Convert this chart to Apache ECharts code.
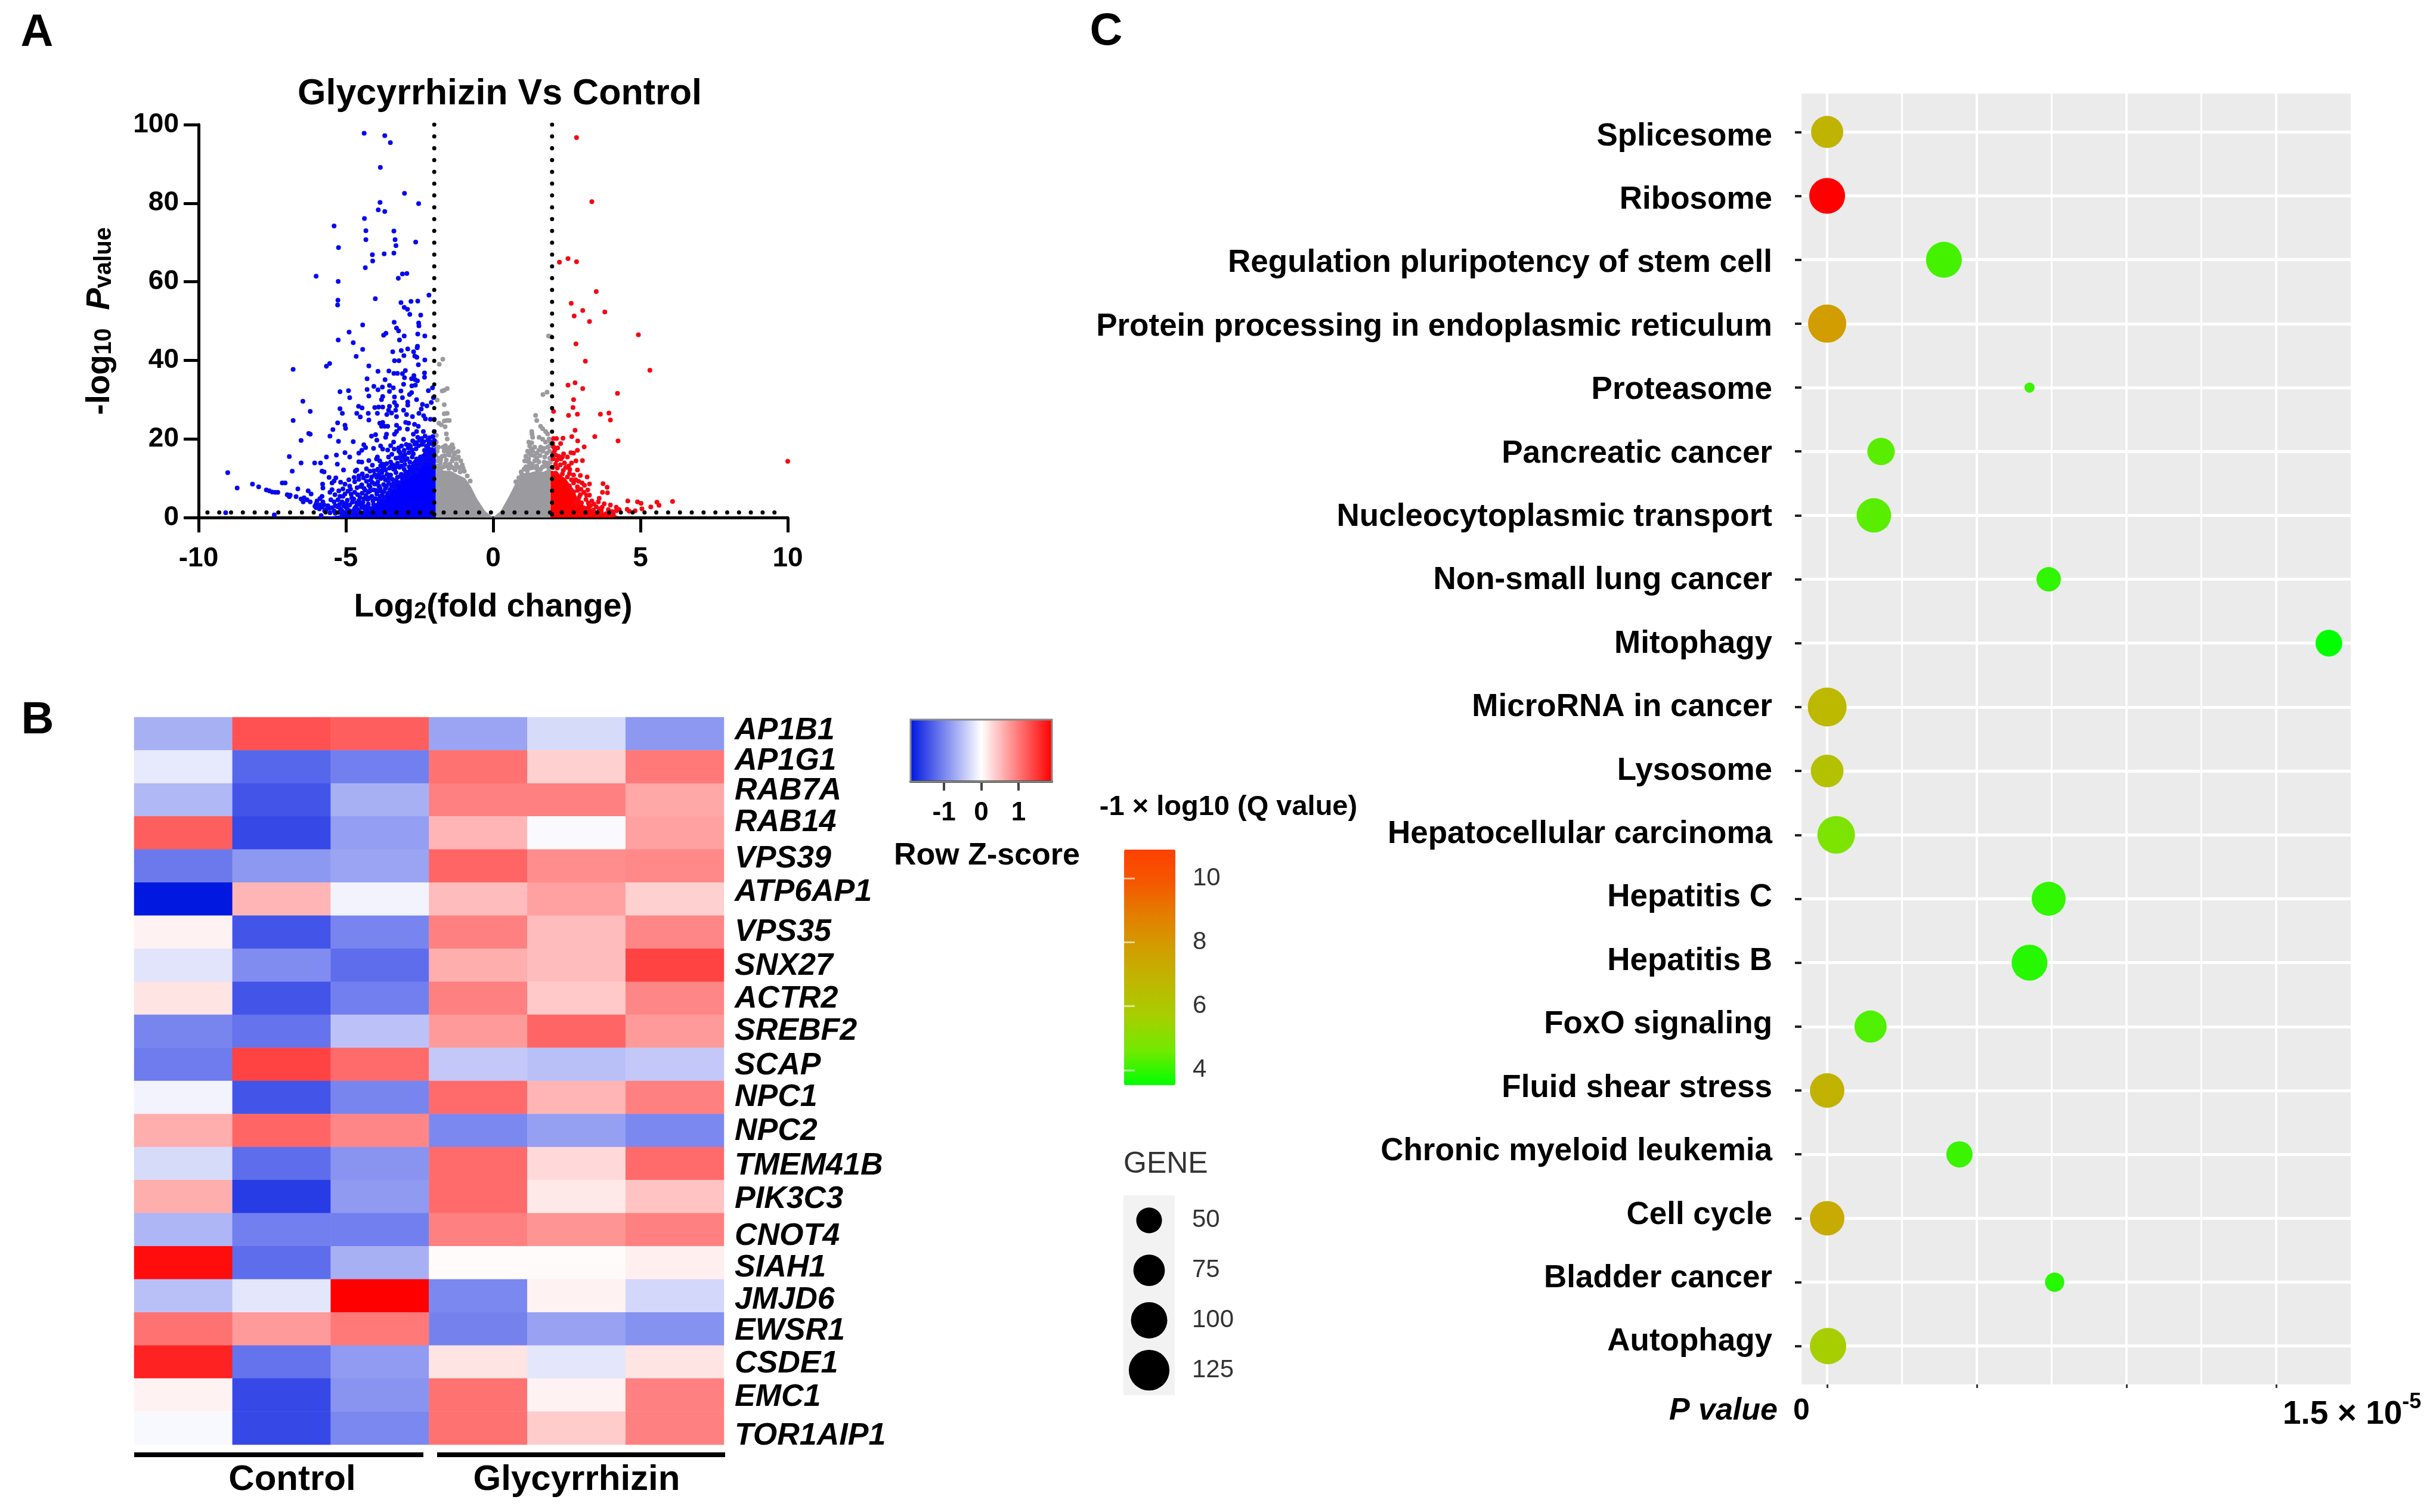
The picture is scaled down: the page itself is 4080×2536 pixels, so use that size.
<!DOCTYPE html>
<html><head><meta charset="utf-8">
<style>html,body{margin:0;padding:0;background:#fff}#c{width:4080px;height:2536px}</style>
<script src="https://cdn.jsdelivr.net/npm/echarts@6/dist/echarts.min.js"></script>
</head><body><div id="c"></div>
<script>
// ---------- Panel A: volcano ----------
const blueSolidEnvelope = [[-1.95,18],[-2.1,16.8],[-2.25,17.6],[-2.4,16.2],[-2.55,15.4],[-2.7,14.6],[-2.85,12.6],[-3.0,11.4],[-3.12,9.6],[-3.28,9],[-3.42,7.2],[-3.58,6.8],[-3.72,5.2],[-3.88,4.6],[-4.02,3.2],[-4.2,2.6],[-4.46,1.6],[-4.8,1.1],[-5.13,0.6],[-5.8,0]];
const graySolidEnvelope = [[-1.95,12.8],[-1.7,12],[-1.42,11.8],[-1.2,10.9],[-0.95,10],[-0.75,7.8],[-0.55,4.8],[-0.28,1.7],[0,0],[0.26,1.7],[0.53,5.3],[0.8,9.3],[1.0,11.3],[1.25,11.4],[1.48,11.9],[1.7,11.6],[1.95,12.6]];
const redSolidEnvelope = [[1.95,12],[2.2,11.5],[2.32,10.6],[2.45,10],[2.6,8.5],[2.75,7],[2.85,5],[3.05,3.2],[3.3,2.4],[3.6,1.5],[4,1],[4.25,0.3]];
const volcanoBlue = [[-4.38,97.8],[-3.68,97.2],[-3.49,95.4],[-3.83,89.1],[-3.01,82.5],[-2.53,79.9],[-3.84,80.2],[-3.9,78.3],[-3.68,77.9],[-4.37,76.1],[-5.4,74.2],[-4.32,73],[-3.37,72.9],[-4.32,70.7],[-3.33,70.7],[-2.63,70.1],[-3.3,69.2],[-5.25,68.7],[-4.1,66.9],[-3.7,67.1],[-3.37,67.3],[-4.09,65.3],[-4.34,63.6],[-3.08,62],[-2.93,62.1],[-6.01,61.4],[-3.22,60.9],
[-5.26,60.1],[-2.18,56.6],[-4,55.7],[-5.27,55.3],[-5.28,54.1],[-3.13,54.7],[-2.79,55],[-2.56,55.1],[-3.02,53.5],[-2.91,53],[-2.83,51.7],[-2.46,51.5],[-3.36,49.7],[-2.53,49.5],[-2.52,48.8],[-4.43,49],[-3.28,48.2],[-3.21,47.5],[-4.89,47.2],[-3.64,46.9],[-3.72,46.4],[-2.56,46.7],[-2.32,46.2],[-3.02,46.2],[-3.18,45.2],[-5.26,45.2],[-4.75,44.5],[-2.57,43.6],[-2.58,43.2],[-2.9,42.9],[-4.43,42.8],[-3.12,42.5],[-3.41,42.2],[-2.7,42.2],[-3.03,41.2],[-2.66,41.1],[-2.59,40.8],[-4.65,41],[-2.32,40.1],[-3.35,39.9],[-3.2,39.9],[-2.54,38.9],[-5.55,39.2],[-5.66,38.5],[-4.22,38.6],[-6.79,37.7],[-3.91,37.2],[-3.54,37.3],[-2.98,37.4],[-3.37,36.7],[-3.25,36.7],[-3.08,36.6],[-2.33,36.8],[-2.33,35.7],[-3.01,35.6],[-4.28,35.3],[-3.67,35.1],[-2.77,35.3],[-2.69,36.1],[-2.65,35.1],[-2.57,34.8],[-3.04,33.9],[-2.76,33.5],[-2.64,33.7],[-2.06,33],[-2.2,32.3],[-4.05,33.4],[-3.76,33.2],[-3.52,33.6],[-3.39,33],[-4.28,32.6],[-3.91,32.5],[-4.91,32.3],[-5.2,32],[-3.52,32.1],[-3.13,32.2],[-2.77,31.8],
[-6.46,29.6],[-4.87,30.5],[-4.22,30.9],[-3.75,30.8],[-3.79,30],[-3.35,30.7],[-3.08,30.5],[-2.84,31.3],[-2.6,30],[-2.03,30.5],[-2.1,29.3],[-3.35,29.3],[-2.9,29.4],[-2.9,28.6],[-6.21,27],[-5.2,27.7],[-5.12,26.5],[-4.57,28.3],[-4.45,27.9],[-4.02,28],[-3.89,28.1],[-3.75,28.1],[-3.52,28.3],[-3.55,27.3],[-3.28,28.5],[-3.31,27.3],[-2.4,28.8],[-2.25,28.4],[-2.44,27.6],[-4.63,26.5],[-4.51,25.6],[-4.24,26.5],[-3.93,26.5],[-3.61,26.2],[-3.45,26.6],[-3.04,27.3],[-2.94,26.2],[-2.52,26.5],[-3.28,25.7],[-2.74,25.7],[-2.36,25.9],[-6.79,24.7],[-4.22,24.8],[-2.3,25.1],[-2.13,25],[-2,25],[-5.28,24.1],[-5.03,23.5],[-5.01,22.7],[-5.44,22.4],[-5.54,20.7],[-6.26,21.4],[-6.21,21.2],[-6.52,19.6],[-5.25,19.4],[-4.75,19.3],[-4.13,20.7],[-3.99,21.1],[-3.95,19.7],[-3.85,24],[-3.75,24.2],[-3.68,23.2],[-3.79,23.2],[-3.58,23.2],[-3.28,23.5],[-3.18,22.7],[-3.35,21.2],[-3.28,21.9],[-2.97,24.2],[-2.87,24],[-2.67,23.7],[-2.54,23.2],[-2.91,22.5],[-2.6,21.9],[-2.71,21.2],[-2.37,21.9],[-2,21.9],[-3.62,21.2],[-3.65,20.4],[-3.04,19.9],[-3.38,19.2],[-4.39,18.5],[-4.33,17.8],[-4.06,17.6],[-3.82,18.2],[-3.48,18.3],[-3.11,18.2],[-3.75,17.4],[-3.58,17.2],[-3.21,17.7],[-2.84,18.4],[-4.46,17.1],[-4.56,16.4],[-6.92,15.5],[-5.66,15.4],[-5.32,15.9],[-5.03,16.5],[-4.87,15.4],[-3.93,15.4],[-6.52,13.9],[-6.06,13.9],[-5.86,13.9],[-5.29,13.6],[-4.56,14.2],[-4.46,14.1],[-4.22,14.5],[-3.85,14.4],[-3.75,13.6],[-3.48,14.1],[-3.11,14.4],[-9.01,11.4],[-6.82,11.8],[-5.81,11.8],[-5.74,11.6],[-5.08,12.1],[-4.63,12.1],[-4.68,11.8],[-3.92,12.3],[-3.65,12.1],[-3.38,12.3],[-3.89,10.8],[-3.85,10.3],[-3.48,10.8],[-5.57,10.2],[-5.34,10.1],[-5.4,9.3],[-5.47,8.8],[-4.56,9.7],[-4.16,9.5],[-4.7,9.1],[-4.46,8.3],[-3.92,9],[-7.16,8.8],[-7.06,8.8],[-8.17,8.5],[-8.69,7.5],[-7.96,7.8],[-7.7,7],[-7.6,6.8],[-7.5,6.5],[-7.4,6.4],[-7.31,6.4],[-6.63,7.3],[-5.79,8.5],[-5.78,7.5],[-5.03,8.5],[-4.87,8],[-5.1,7.3],[-4.93,6.7],[-5.47,7.1],[-5.54,6.4],[-6.28,6.8],[-6.18,6],[-6.99,5.8],[-6.89,5.7],[-6.92,5.3],[-6.69,5.3],[-6.52,4.7],[-6.42,5],[-6.32,4.5],[-6.45,4],[-6.21,4],[-5.81,5.4],[-5.98,4.2],[-5.88,4.8],[-5.78,4],[-6.01,3.5],[-5.88,3.2],[-5.74,3.2],[-5.37,5.8],[-5.2,5.4],[-5.1,5.4],[-4.8,5],[-4.73,4.7],[-5.51,4.5],[-5.4,4],[-5.27,4.5],[-5.13,4],[-4.63,3.7],[-6.01,2.5],[-5.81,2.7],[-5.61,3],[-5.47,2.5],[-5.27,2.7],[-5.07,3],[-4.87,3.2],[-4.66,2.7],[-4.46,2.5],[-5.67,2],[-5.4,1.7],[-5.13,1.7],[-4.87,1.7],[-4.6,1.5],[-5.54,1.2],[-5.13,0.9],[-4.8,0.7],[-4.53,0.7],[-9.08,1.2],[-7.43,0.7],[-5.84,0.5],
[-2.05,20.6],[-2.16,20.3],[-2.31,20.7],[-2.43,20.1],[-2.56,20.4],[-2,19.6],[-2.12,19.2],[-2.22,19.7],[-2.36,19.3],[-2.49,19.6],[-2.61,19.1],[-2.73,19.5],[-2.03,18.5],[-2.18,18.7],[-2.27,18.2],[-2.41,18.6],[-2.53,18.3],[-2.66,18.7],[-2.81,18.1],[-2.95,18.6],[-2.08,17.3],[-2.2,17.6],[-2.33,17.1],[-2.62,17.5],[-2.75,17.2],[-2.88,17.7],[-3.02,17.1],[-3.2,16.9],[-3.36,17.4],[-2.02,16.4],[-2.14,16.1],[-2.28,16.5],[-2.71,16.2],[-2.86,16.5],[-3,16],[-3.15,16.4],[-3.44,16.1],[-2.05,15.2],[-2.2,15.5],[-2.34,15],[-2.47,15.4],[-2.6,14.9],[-2.75,15.4],[-2.92,15],[-3.07,15.5],[-3.3,15.1],[-3.55,15.4],[-3.96,14.9],[-2.1,14],[-2.25,14.4],[-2.4,13.8],[-2.55,14.2],[-2.7,13.7],[-2.83,14.1],[-3,13.5],[-3.25,13.8],[-3.4,13.4],[-3.62,13.7],[-3.82,13.2],[-4.1,13.3],[-2.5,12.9],[-2.68,12.6],[-2.85,12.9],[-3.02,12.3],[-3.18,12.8],[-3.52,12.6],[-3.75,12.2],[-4.05,11.9],[-4.3,12.4],[-2.6,11.6],[-2.8,11.2],[-2.97,11.6],[-3.12,11],[-3.3,11.4],[-3.6,11],[-3.78,11.4],[-4.02,10.9],[-4.28,10.6],[-4.44,11.1],[-2.9,10.3],[-3.08,9.8],[-3.25,10.2],[-3.42,9.7],[-3.66,9.6],[-3.82,9.9],[-4.1,8.9],[-4.3,9.2],[-3.2,8.9],[-3.38,8.6],[-3.55,8.9],[-3.72,8.4],[-3.88,8],[-4.02,8.5],[-4.18,7.8],[-4.38,7.4],[-4.62,7.6],[-3.32,7.5],[-3.5,7.1],[-3.66,7.4],[-3.84,6.8],[-4.05,7],[-4.24,6.5],[-4.45,6.2],[-4.7,6.4],[-3.58,6.2],[-3.76,5.8],[-3.95,6],[-4.12,5.4],[-4.32,5.6],[-4.52,5.1],[-3.7,4.9],[-3.9,4.6],[-4.08,4.2],[-4.26,4.6],[-4.42,3.9],[-4.06,3.3],[-4.24,3.4],[-4.42,2.9],[-4.2,2.4],[-4.34,1.9],[-4.72,1.9],[-4.95,2.2],[-5.25,1.3],[-4.92,1],
[-2.98,14.7],[-3.12,13.1],[-3.34,12.4],[-3.2,15.2],[-3.46,13],[-3.7,12.8],[-3.9,12],[-4.18,11.8],[-4.4,10.1],[-4.56,10.6],[-4.72,10.2],[-4.9,9.6],[-5.18,9],[-4.22,8.2],[-4.5,7.9],[-4.84,7.2],[-5.24,6.8],[-5.03,6],[-4.6,5.8],[-4.82,5.9],[-4.95,4.4],[-4.38,4.8],[-4.56,4.3],[-4.78,3.9],[-5,3.6],[-5.22,3.3],[-5.36,3],[-4.54,3.3],[-4.32,2.8],[-4.7,2.3],[-5,2.6],[-5.18,2.2],[-5.56,2.4],[-4.58,2],[-5.36,1.1],[-5.02,1.3],[-4.72,1.2],[-5.72,1.7],[-5.9,2.2],[-6.05,2.9],[-3.3,13],[-2.6,13.2],[-3.95,10.2],[-3.72,10.3],[-3.55,10],[-4.12,10.3],[-3.15,10.5],[-3.02,10.6],[-3.3,9.4],[-3.46,8.3],[-3.62,8],[-3.84,7.4],[-3.98,6.9],[-4.18,6.8],[-4.34,6.9],[-4.2,5],[-4,4.8],[-3.84,5.4],[-3.72,6.6],[-3.44,7.9]];
const volcanoGray = [[-1.71,40.3],[-1.83,39],[-1.56,32.8],[-1.66,32.4],[-1.73,32.2],[-1.9,29.9],[-1.66,28.7],[-1.66,26.4],[-1.56,26.5],[-1.66,24.6],[-1.57,24.7],[-1.49,24.7],[-1.84,24],[-1.76,23.6],[-1.63,23.1],[-1.59,21.3],[-1.56,20],[-1.93,20.9],[-1.93,19.2],[-1.39,18.5],[-1.46,17.9],[-1.36,17.7],[-1.56,17.4],[-1.42,16.9],[-1.19,16.8],[-1.29,16.5],[-1.86,17.9],[-1.9,16.9],[-1.66,16.9],[-1.73,15.6],[-1.49,15.9],[-1.32,16.1],[-1.59,14.6],[-1.25,14.9],[-1.9,14.4],[-1.39,14.4],[-1.79,13.8],[-1.05,13.4],[-1.25,13.6],[-1.56,13.1],[-1.9,13.1],[-1.42,12.9],[-1.76,12.6],[-1.15,12.7],[-0.98,11.8],[-1.12,11.6],[-0.88,10.6],[-0.78,9.3],[-1.29,12.1],
[-1.83,15.1],[-1.64,15.7],[-1.52,16.5],[-1.62,13.7],[-1.47,13.6],[-1.36,15.2],[-1.18,15.4],[-1.1,14.4],[-1.02,12.6],[-1.22,12.9],[-1.35,12.6],[-1.68,12.9],[-1.5,12.5],[-1.86,12.9],[-1.95,15.8],[-1.95,18.1],[-1.78,14.7],[-1.7,17.9],[-1.62,18.3],
[1.69,31.3],[1.83,31.9],[1.88,46.2],[1.95,46.1],[1.44,26],[1.48,24.7],[1.61,23.2],[1.68,22.6],[1.78,21.9],[1.85,21.3],[1.31,21.9],[1.32,21.2],[1.34,20.4],[1.56,20.4],[1.68,19.9],[1.78,19.2],[1.21,19.2],[1.31,19],[1.24,18.2],[1.41,17.9],[1.61,17.9],[1.85,17.9],[1.17,16.9],[1.34,16.9],[1.48,16.4],[1.68,16.9],[1.82,16.4],[1.92,16.9],[1.11,15.6],[1.28,15.9],[1.48,15.1],[1.75,15.4],[1.92,15.1],[1.07,14.4],[1.24,13.9],[1.41,14.4],[1.82,13.9],[1.48,13.1],[1.11,12.9],[1.28,12.6],[1.61,12.3],[1.75,13.1],[0.97,10.8],[0.87,10.1],[0.77,9.1],
[1.94,19.3],[1.9,20],[1.55,17.1],[1.72,17.6],[1.4,15.7],[1.2,14.9],[1.16,14.3],[1.33,13.5],[1.38,12.7],[1.5,12.3],[1.68,12.9],[1.88,12.7],[1.94,14],[1.16,11.9],[1.05,12.3],[0.95,11.6],[1.2,13],[1.55,14.2],[1.86,13.4],[1.73,14.1],[1.3,17.4],[1.22,16.3],[1.59,15.8],[1.92,18.2]];
const volcanoRed = [[2.83,96.7],[3.35,80.4],[2.25,65],[2.54,65.9],[2.83,65.1],[3.5,57.5],[2.65,54.5],[3.04,52.7],[3.79,52.3],[2.75,51.3],[3.27,49.9],[4.93,46.5],[2.81,44.2],[3.13,39.8],[5.32,37.5],[2.54,33.7],[2.78,34.3],[3.04,32.8],[4.22,31.6],[2.73,30],[2.71,28],[2.05,27],[2.56,26],[2.86,26.3],[3.64,26.3],[3.93,26.6],[3.98,24.8],[2.78,22.2],[3.45,20.6],[4.24,19.5],[2.05,20.1],[2.15,20.1],[2.37,20.2],[2.67,20.6],[2.87,19.5],[2.29,18.8],[2.02,18.9],[3.09,18],[2.86,17.1],[2.19,17.7],[2.09,17.1],[2.39,16.2],[2.64,16.5],[2.73,16.4],[2.12,15.9],[2.22,15.6],[2.52,15.4],[2.81,14.4],[3.03,14.5],[2.66,13.9],[2.56,13.1],[2.46,12.7],[2.12,13.6],[2.86,12.1],[2.02,12.7],[2.96,10.7],[3.19,10.3],[2.35,11.1],[2.59,11.2],[2.73,10.8],[2.12,11.3],[2.52,10.3],[3.73,8.6],[3.27,8.55],[3.1,8.2],[3.87,7.7],[3.21,7],[2.86,7.8],[2.73,8.8],[3.71,6.4],[3.88,6.3],[2.86,6.9],[2.96,5.8],[3.17,5.7],[3.27,5.7],[3.6,4.9],[3.57,4],[3.77,3.5],[3.98,3.2],[4.57,4.2],[4.9,4],[5.02,3.6],[5.56,3.9],[5.63,3.1],[6.09,4.1],[5.35,2.7],[5.05,2.2],[4.82,1.7],[4.55,2.1],[4.62,1.6],[4.18,2.6],[4.28,2],[3.23,3.7],[2.9,4.2],[2.79,4],[3,3.7],[3.5,2.7],[3.3,3],[3.67,1.7],[3.91,2],[4.04,1.5],[4.18,1.7],[3.13,2.2],[3.57,1.2],[3.84,1],[4.08,0.8],[2.63,7],[2.73,6.5],[2.59,8],[10,14.3],
[2.03,14.9],[2.16,14.6],[2.3,14.9],[2.05,16.4],[2.28,13.4],[2.42,13.9],[2.35,15.4],[2.05,18],[2.18,12.6],[2.6,12.2],[2.38,12],[2.8,9.6],[2.66,9.6],[2.9,9.2],[3.02,8.8],[2.98,7.2],[3.08,6.4],[3.15,4.6],[3.35,4.2],[3.42,3.4],[3.7,2.6],[3.98,1.4],[3.4,1.9],[3.6,2.2],[3.25,2.8],[2.92,5.2]];
const foldCutoffs = [-2, 2];
const pCutoff = 1.3;

// ---------- Panel B: heatmap ----------
const sampleColumns = ['C1','C2','C3','G1','G2','G3'];
const genes = ['AP1B1','AP1G1','RAB7A','RAB14','VPS39','ATP6AP1','VPS35','SNX27','ACTR2','SREBF2','SCAP','NPC1','NPC2','TMEM41B','PIK3C3','CNOT4','SIAH1','JMJD6','EWSR1','CSDE1','EMC1','TOR1AIP1'];
const zScores = [
[-.65,1.3,1.2,-.75,-.3,-.85],[-.18,-1.25,-1.05,1.05,.35,1],[-.58,-1.4,-.65,.95,.95,.65],[1.2,-1.5,-.8,.55,-.04,.7],[-1.1,-.85,-.75,1.15,.85,.88],[-1.9,.55,-.1,.5,.7,.35],[.1,-1.4,-1,.95,.5,.9],[-.22,-.95,-1.2,.6,.5,1.4],[.2,-1.4,-1.05,.95,.4,.9],[-1,-1.15,-.5,.75,1.15,.75],[-1.08,1.4,1.1,-.45,-.52,-.45],[-.1,-1.4,-1,1.1,.55,.95],[.6,1.15,.9,-.98,-.78,-.98],[-.3,-1.2,-.88,1.1,.28,1.1],[.6,-1.6,-.83,1.1,.17,.45],[-.6,-1.05,-1.05,.95,.8,.95],[1.8,-1.2,-.65,.03,.03,.12],[-.52,-.2,1.9,-.98,.1,-.33],[1.05,.75,1,-1.03,-.77,-.9],[1.65,-1.15,-.82,.2,-.2,.2],[.1,-1.5,-.88,1.05,.1,.95],[-.05,-1.5,-.98,1.05,.38,.95]];
const geneLabelNudge = [-5,-10,-15,-17,-12,-11,0,2,1,0,2,0,1,4,5,11,9,7,4,3,4,13];
const zTicks = [-1,0,1];

// ---------- Panel C: bubbles ----------
const pathways = ['Splicesome','Ribosome','Regulation pluripotency of stem cell','Protein processing in endoplasmic reticulum','Proteasome','Pancreatic cancer','Nucleocytoplasmic transport','Non-small lung cancer','Mitophagy','MicroRNA in cancer','Lysosome','Hepatocellular carcinoma','Hepatitis C','Hepatitis B','FoxO signaling','Fluid shear stress','Chronic myeloid leukemia','Cell cycle','Bladder cancer','Autophagy'];
const pValuesE5 = [0,0,.39,0,.676,.18,.156,.74,1.676,0,0,.03,.74,.676,.145,0,.442,0,.76,.003];
const geneCounts = [78,97,97,110,8,57,90,45,54,114,81,107,87,97,78,90,52,90,28,100];
const qScores = [7,11.2,4.2,8,4.1,4.4,4.4,4,3.53,6.8,6.4,4.9,4,3.9,4.3,7.1,4.1,7.4,3.9,5.8];
const geneLegendCounts = ['50','75','100','125'];
const qTicks = [4,6,8,10];
const pMajor = [0,.5,1,1.5];
const pMinor = [.25,.75,1.25];

const FONT = '"Liberation Sans"';
const bubbleSize = d => 6.1*Math.sqrt(d);
const rowIdx = pathways.map((_,i)=>i);
const heatData = [];
zScores.forEach((row,r)=>row.forEach((z,c)=>heatData.push([c,r,z])));
const geneRich = {};
genes.forEach((g,i)=>{const n=geneLabelNudge[i];geneRich['g'+i]={fontFamily:FONT,fontSize:52,fontWeight:'bold',fontStyle:'italic',color:'#000',padding:n>=0?[2*n,0,0,0]:[0,0,-2*n,0]};});
const off = {show:false};
const noLine = {show:false,onZero:false};
const txt = (t,x,y,size,o={})=>({type:'text',x,y,z:50,style:Object.assign({text:t,fontFamily:FONT,fontSize:size,fontWeight:'bold',fill:'#000',align:'center',verticalAlign:'middle'},o)});
const bar = (x1,x2,y)=>({type:'line',z:50,shape:{x1,y1:y,x2,y2:y},style:{stroke:'#000',lineWidth:8}});
const DOT = 8;

const option = {
 animation:false, backgroundColor:'#fff',
 grid:[
  {left:333,top:209,width:988,height:659,outerBoundsMode:'none'},
  {left:225,top:1203,width:989,height:1220,outerBoundsMode:'none'},
  {left:1527,top:1207,width:237,height:104,outerBoundsMode:'none'},
  {left:3021,top:157,width:921,height:2165,show:true,backgroundColor:'#ebebeb',borderWidth:0,outerBoundsMode:'none'},
  {left:1885,top:1425,width:86,height:395,outerBoundsMode:'none'},
  {left:1884,top:2005,width:86,height:335,show:true,backgroundColor:'#f2f2f2',borderWidth:0,outerBoundsMode:'none'}
 ],
 xAxis:[
  {gridIndex:0,type:'value',min:-10,max:10,interval:5,splitLine:off,
   axisLine:{lineStyle:{color:'#000',width:5}},axisTick:{length:25,lineStyle:{color:'#000',width:5}},
   axisLabel:{fontFamily:FONT,fontWeight:'bold',fontSize:46,color:'#000',margin:46},
   name:'{a|Log}{s|2}{a|(fold change)}',nameLocation:'middle',nameGap:114,
   nameTextStyle:{rich:{a:{fontFamily:FONT,fontWeight:'bold',fontSize:55,color:'#000',verticalAlign:'bottom',lineHeight:64},s:{fontFamily:FONT,fontWeight:'bold',fontSize:38,color:'#000',verticalAlign:'bottom',lineHeight:38}}}},
  {gridIndex:1,type:'category',data:sampleColumns,show:false},
  {gridIndex:2,type:'value',min:-1.9,max:1.9,splitLine:off,z:10,
   axisLine:{lineStyle:{color:'#111',width:4}},
   axisTick:{customValues:zTicks,length:15,lineStyle:{color:'#444',width:4}},
   axisLabel:{customValues:zTicks,fontFamily:FONT,fontWeight:'bold',fontSize:44,color:'#000',margin:31}},
  {gridIndex:3,type:'value',position:'bottom',min:-0.0857,max:1.749,
   axisLine:noLine,axisLabel:off,axisTick:{customValues:pMajor,length:6,lineStyle:{color:'#333',width:3}},
   splitLine:{show:true,lineStyle:{color:'#fff',width:4}}},
  {gridIndex:3,type:'value',position:'bottom',min:-0.0857,max:1.749,
   axisLine:noLine,axisLabel:off,axisTick:{show:false,customValues:pMinor},
   splitLine:{show:true,lineStyle:{color:'#fff',width:3}}},
  {gridIndex:4,type:'value',min:0,max:1,show:false},
  {gridIndex:5,type:'value',min:0,max:1,show:false}
 ],
 yAxis:[
  {gridIndex:0,type:'value',min:0,max:100,interval:20,splitLine:off,
   axisLine:{onZero:false,lineStyle:{color:'#000',width:5}},axisTick:{length:25,lineStyle:{color:'#000',width:5}},
   axisLabel:{fontFamily:FONT,fontWeight:'bold',fontSize:46,color:'#000',margin:33},
   name:'{a|-log}{s|10}{a|  }{i|P}{s|value}',nameLocation:'middle',nameGap:138,nameRotate:90,
   nameTextStyle:{rich:{a:{fontFamily:FONT,fontWeight:'bold',fontSize:55,color:'#000',verticalAlign:'bottom',lineHeight:64},i:{fontFamily:FONT,fontWeight:'bold',fontStyle:'italic',fontSize:55,color:'#000',verticalAlign:'bottom',lineHeight:64},s:{fontFamily:FONT,fontWeight:'bold',fontSize:40,color:'#000',verticalAlign:'bottom',lineHeight:40}}}},
  {gridIndex:1,type:'category',data:genes,inverse:true,position:'right',
   axisLine:off,axisTick:off,splitLine:off,
   axisLabel:{margin:18,align:'left',formatter:(v)=>`{g${genes.indexOf(v)}|${v}}`,rich:geneRich,interval:0}},
  {gridIndex:2,type:'value',min:0,max:1,show:false},
  {gridIndex:3,type:'value',position:'left',min:-0.6,max:19.6,inverse:true,
   axisLine:noLine,axisLabel:off,axisTick:{customValues:rowIdx,length:11,lineStyle:{color:'#222',width:4}},
   splitLine:{show:true,lineStyle:{color:'#fff',width:5}}},
  {gridIndex:3,type:'value',position:'left',min:-0.677,max:19.67,inverse:true,axisLine:noLine,axisTick:{show:false,customValues:rowIdx},splitLine:off,
   axisLabel:{customValues:rowIdx,margin:49,fontFamily:FONT,fontWeight:'bold',fontSize:53,color:'#000',formatter:v=>pathways[v]}},
  {gridIndex:4,type:'value',min:3.53,max:10.9,position:'right',z:10,splitLine:off,axisLine:off,
   axisTick:{customValues:qTicks,inside:true,length:18,lineStyle:{color:'rgba(255,255,255,.6)',width:3}},
   axisLabel:{customValues:qTicks,fontFamily:FONT,fontSize:42,color:'#333',margin:29,padding:[6,0,0,0]}},
  {gridIndex:4,type:'value',min:3.53,max:10.9,position:'left',z:10,splitLine:off,axisLine:off,axisLabel:off,
   axisTick:{customValues:qTicks,inside:true,length:18,lineStyle:{color:'rgba(255,255,255,.6)',width:3}}},
  {gridIndex:5,type:'category',data:geneLegendCounts,inverse:true,position:'right',axisLine:off,axisTick:off,splitLine:off,
   axisLabel:{fontFamily:FONT,fontSize:42,color:'#333',margin:29}}
 ],
 visualMap:[
  {type:'continuous',seriesIndex:8,dimension:2,min:-1.9,max:1.9,orient:'horizontal',left:1527,top:1207,itemWidth:104,itemHeight:237,padding:0,text:null,showLabel:false,calculable:false,hoverLink:false,
   inRange:{color:['#0018e0','#ffffff','#ff0000']}},
  {type:'continuous',seriesIndex:9,dimension:3,min:3.53,max:11.2,show:false,
   inRange:{color:['#00ff00','#70ea00','#a5d000','#bdb800','#d0a000','#e38000','#f45800','#ff0000']}},
  {type:'continuous',seriesIndex:11,dimension:0,min:3.53,max:10.9,left:1885,top:1425,itemWidth:86,itemHeight:395,padding:0,text:null,showLabel:false,calculable:false,hoverLink:false,
   inRange:{color:['#00ff00','#70ea00','#a5d000','#bdb800','#d0a000','#e38000','#f45800','#ff4000']}}
 ],
 series:[
  {type:'line',xAxisIndex:0,yAxisIndex:0,data:graySolidEnvelope,symbol:'none',lineStyle:{width:0},areaStyle:{color:'#9b9b9f',opacity:1},z:2},
  {type:'scatter',xAxisIndex:0,yAxisIndex:0,data:volcanoGray,symbolSize:DOT,itemStyle:{color:'#9b9b9f',opacity:1},z:2},
  {type:'line',xAxisIndex:0,yAxisIndex:0,data:blueSolidEnvelope,symbol:'none',lineStyle:{width:0},areaStyle:{color:'#0000ff',opacity:1},z:3},
  {type:'scatter',xAxisIndex:0,yAxisIndex:0,data:volcanoBlue,symbolSize:DOT,itemStyle:{color:'#0808f0',opacity:1},z:3},
  {type:'line',xAxisIndex:0,yAxisIndex:0,data:redSolidEnvelope,symbol:'none',lineStyle:{width:0},areaStyle:{color:'#ff0000',opacity:1},z:3},
  {type:'scatter',xAxisIndex:0,yAxisIndex:0,data:volcanoRed,symbolSize:DOT,itemStyle:{color:'#f50814',opacity:1},z:3},
  {type:'line',xAxisIndex:0,yAxisIndex:0,symbol:'none',z:4,lineStyle:{color:'#000',width:7,type:[0.01,19.8],cap:'round'},
   data:[[foldCutoffs[0],100],[foldCutoffs[0],0],[null,null],[foldCutoffs[1],100],[foldCutoffs[1],0]],connectNulls:false},
  {type:'line',xAxisIndex:0,yAxisIndex:0,symbol:'none',z:4,lineStyle:{color:'#000',width:7,type:[0.01,19.8],cap:'round'},data:[[-9.7,pCutoff],[9.7,pCutoff]]},
  {type:'heatmap',xAxisIndex:1,yAxisIndex:1,data:heatData},
  {type:'scatter',xAxisIndex:3,yAxisIndex:3,z:5,data:pathways.map((_,i)=>[pValuesE5[i],i,geneCounts[i],qScores[i]]),symbolSize:d=>bubbleSize(d[2]),itemStyle:{opacity:1}},
  {type:'scatter',xAxisIndex:4,yAxisIndex:3,data:[]},
  {type:'scatter',xAxisIndex:5,yAxisIndex:5,data:[]},
  {type:'scatter',xAxisIndex:6,yAxisIndex:7,z:5,data:geneLegendCounts.map(c=>[0.5,c]),symbolSize:d=>bubbleSize(+d[1]),itemStyle:{color:'#000',opacity:1}}
 ],
 graphic:[
  txt('A',62,56,76), txt('B',63,1209,76), txt('C',1855,54,76),
  txt('Glycyrrhizin Vs Control',838,158,61),
  bar(225,710,2440), bar(733,1216,2440),
  txt('Control',490,2482,60), txt('Glycyrrhizin',967,2482,60),
  txt('Row Z-score',1655,1436,52),
  txt('-1 × log10 (Q value)',2060,1354,47),
  txt('GENE',1884,1953,50,{fontWeight:'normal',fill:'#333',align:'left'}),
  txt('P value',2981,2367,52,{fontStyle:'italic',align:'right'}),
  txt('0',3021,2367,50),
  {type:'text',x:3828,y:2367,z:50,style:{text:'{a|1.5 × 10}{s|-5}',fontFamily:FONT,verticalAlign:'middle',align:'left',rich:{a:{fontFamily:FONT,fontWeight:'bold',fontSize:55,fill:'#000',verticalAlign:'bottom',lineHeight:66},s:{fontFamily:FONT,fontWeight:'bold',fontSize:36,fill:'#000',verticalAlign:'top',lineHeight:66}}}},
  {type:'rect',z:40,shape:{x:1527,y:1207,width:237,height:104},style:{fill:'none',stroke:'#888',lineWidth:3}}
 ]
};
const chart = echarts.init(document.getElementById('c'),null,{renderer:'canvas',width:4080,height:2536,devicePixelRatio:1});
chart.setOption(option);
</script></body></html>
